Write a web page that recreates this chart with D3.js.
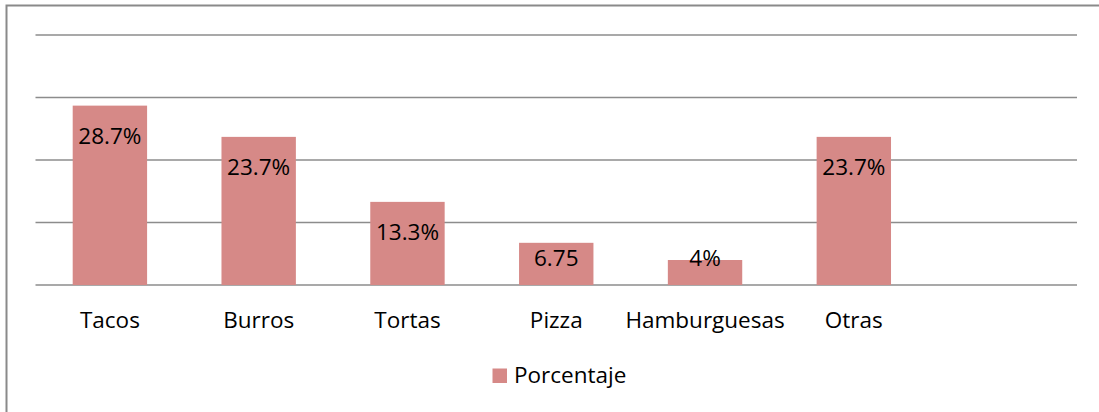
<!DOCTYPE html>
<html>
<head>
<meta charset="utf-8">
<script src="https://cdn.jsdelivr.net/npm/d3@7"></script>
<style>
  html, body { margin: 0; padding: 0; background: #fff; }
  svg { display: block; }
  text { font-family: "Open Sans", "Noto Sans", sans-serif; fill: #000; }
</style>
</head>
<body>
<svg id="chart" width="1099" height="412"></svg>
<script>
const categories = ["Tacos", "Burros", "Tortas", "Pizza", "Hamburguesas", "Otras", ""];
const values = [28.7, 23.7, 13.3, 6.75, 4, 23.7, null];
const valueLabels = ["28.7%", "23.7%", "13.3%", "6.75", "4%", "23.7%", ""];
const yTicks = [0, 10, 20, 30, 40];
const seriesName = "Porcentaje";

const W = 1099, H = 412;
const svg = d3.select("#chart");
const barColor = "#d68987";
const gridColor = "#8c8c8c";
const fontSize = 22.5;

// outer border
svg.append("rect")
  .attr("x", 6.5).attr("y", 5.5)
  .attr("width", W + 10).attr("height", H + 10)
  .attr("fill", "none").attr("stroke", "#8a8a8a").attr("stroke-width", 2);

const x = d3.scaleBand()
  .domain(categories)
  .range([35.5, 1077])
  .paddingInner(0.5)
  .paddingOuter(0.25);

const y = d3.scaleLinear().domain([0, 40]).range([285, 35]);

// gridlines
svg.append("g").selectAll("line")
  .data(yTicks)
  .join("line")
  .attr("x1", 35.5).attr("x2", 1077)
  .attr("y1", d => y(d)).attr("y2", d => y(d))
  .attr("stroke", gridColor).attr("stroke-width", 1.6);

const data = categories.map((c, i) => ({ c, v: values[i], label: valueLabels[i] }))
  .filter(d => d.v !== null);

// bars
svg.append("g").selectAll("rect")
  .data(data)
  .join("rect")
  .attr("x", d => x(d.c))
  .attr("width", x.bandwidth())
  .attr("y", d => y(d.v))
  .attr("height", d => y(0) - y(d.v))
  .attr("fill", barColor);

// value labels
svg.append("g").selectAll("text")
  .data(data)
  .join("text")
  .attr("x", d => x(d.c) + x.bandwidth() / 2)
  .attr("y", d => Math.min(y(d.v) + 38, y(0) - 19))
  .attr("text-anchor", "middle")
  .attr("font-size", fontSize)
  .text(d => d.label);

// category labels
const xAxis = d3.axisBottom(x).tickSize(0).tickPadding(0);
const gx = svg.append("g").attr("transform", `translate(0,${y(0)})`).call(xAxis);
gx.select(".domain").remove();
gx.selectAll("text")
  .attr("y", 43)
  .attr("dy", null)
  .attr("font-size", fontSize)
  .attr("font-family", "'Open Sans', 'Noto Sans', sans-serif")
  .attr("fill", "#000");

// legend
const lg = svg.append("g");
lg.append("rect")
  .attr("x", 492.5).attr("y", 368.5)
  .attr("width", 14.5).attr("height", 14.5)
  .attr("fill", barColor);
lg.append("text")
  .attr("x", 514).attr("y", 383)
  .attr("font-size", fontSize)
  .text(seriesName);
</script>
</body>
</html>
